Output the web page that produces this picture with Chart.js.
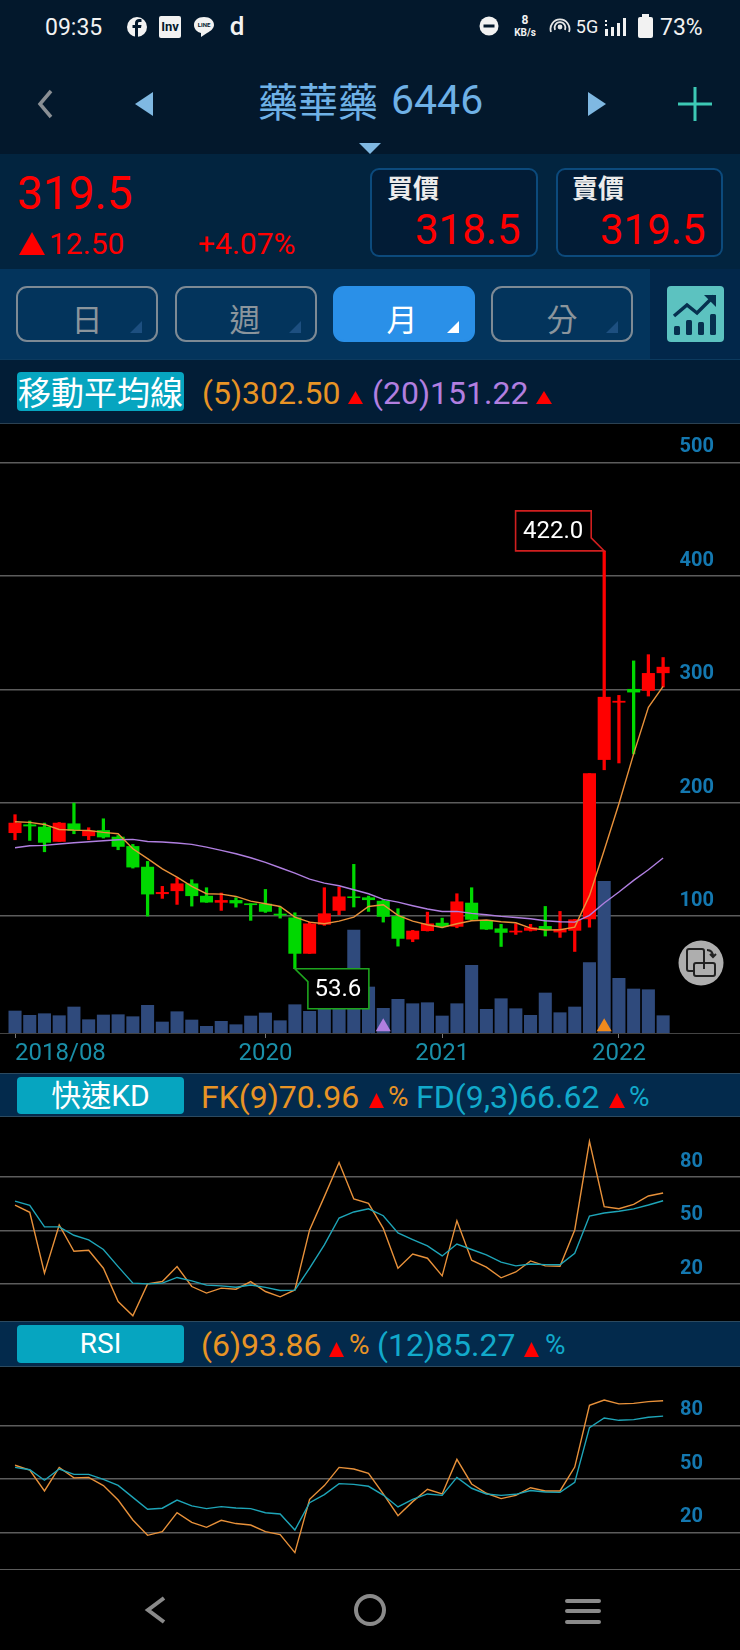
<!DOCTYPE html>
<html>
<head>
<meta charset="utf-8">
<title>藥華藥 6446</title>
<script src="https://cdn.jsdelivr.net/npm/chart.js@4"></script>
<style>
html, body { margin: 0; padding: 0; background: #000; }
#page { position: relative; width: 740px; height: 1650px; overflow: hidden; background: #000;
        font-family: Roboto, "Noto Sans CJK TC", sans-serif; }
.band { position: absolute; left: 0; width: 740px; }
.t { position: absolute; white-space: nowrap; line-height: 1; transform: translateY(-50%); }
.tc { transform: translate(-50%, -50%); }
.tri { position: absolute; clip-path: polygon(50% 0, 100% 100%, 0 100%); background: #ff0000; }
.box { position: absolute; box-sizing: border-box; border: 2px solid #0c4a7c; border-radius: 9px; background: #021c36; }
.tab { position: absolute; top: 286px; height: 56px; width: 142px; box-sizing: border-box; border: 2px solid #7d8a95; border-radius: 11px; }
.corner { position: absolute; top: 321px; width: 12px; height: 12px; clip-path: polygon(100% 0, 100% 100%, 0 100%); background: #1d4f80; }
.lab { position: absolute; left: 17px; width: 167px; border-radius: 4px; background: #06a5c0; color: #fff; text-align: center; }
canvas { position: absolute; left: 0; display: block; }
svg { position: absolute; }
</style>
</head>
<body>
<div id="page">
  <!-- header bands -->
  <div class="band" style="top:0;height:154px;background:#03182c"></div>
  <div class="band" style="top:154px;height:115px;background:#02243f"></div>
  <div class="band" style="top:269px;height:90px;background:#03345c"></div>
  <div class="band" style="top:359px;height:64px;background:#021d36;border-top:1px solid #0c3a5e"></div>
  <div class="band" style="top:423px;height:1px;background:#2b4152"></div>
  <div style="position:absolute;left:650px;top:269px;width:90px;height:90px;background:#02274a"></div>

  <!-- status bar -->
  <div class="t" style="left:45px;top:27px;font-size:23px;color:#f2f2f2">09:35</div>
  <svg style="left:127px;top:17px" width="20" height="20"><circle cx="10" cy="10" r="10" fill="#f2f2f2"/><path d="M11 20V11h3l.5-3H11V6.500c0-1 .4-1.500 1.600-1.500H14.500V2.300C13.800 2.200 13 2.100 12.200 2.100 9.800 2.100 8 3.600 8 6.100V8H5.500v3H8v9z" fill="#03182c"/></svg>
  <div class="t tc" style="left:170px;top:27px;width:22px;height:22px;line-height:22px;text-align:center;background:#f2f2f2;color:#03182c;font-size:13px;font-weight:700;border-radius:2px">Inv</div>
  <svg style="left:193px;top:16px" width="22" height="23"><path d="M11 1C5 1 1 4.500 1 9c0 4 3 7 7 8v4l6-4c4-2 7-5 7-8 0-4.500-4-8-10-8z" fill="#f2f2f2"/></svg>
  <div class="t tc" style="left:204px;top:25px;font-size:6px;font-weight:700;color:#03182c">LINE</div>
  <div class="t tc" style="left:237px;top:26px;font-size:26px;font-weight:500;color:#f2f2f2">d</div>
  <svg style="left:479px;top:16px" width="20" height="20"><circle cx="10" cy="10" r="9.500" fill="#f2f2f2"/><rect x="4.500" y="8.500" width="11" height="3" fill="#03182c"/></svg>
  <div class="t tc" style="left:525px;top:20px;font-size:12px;font-weight:700;color:#f2f2f2">8</div>
  <div class="t tc" style="left:525px;top:33px;font-size:10px;font-weight:700;color:#f2f2f2">KB/s</div>
  <svg style="left:549px;top:16px" width="22" height="20" fill="none" stroke="#e6e6e6" stroke-width="1.800"><path d="M2 16A9.500 9.500 0 1 1 20 16"/><path d="M6 14A5.500 5.500 0 1 1 16 14"/><circle cx="11" cy="11" r="1.500" fill="#e6e6e6"/></svg>
  <div class="t tc" style="left:587px;top:27px;font-size:18px;color:#f2f2f2">5G</div>
  <svg style="left:604px;top:17px" width="22" height="20" fill="#f2f2f2"><rect x="1" y="3" width="2" height="2"/><rect x="1" y="7" width="2" height="2"/><rect x="1" y="12" width="3" height="7"/><rect x="7" y="10" width="3" height="9"/><rect x="13" y="6" width="3" height="13"/><rect x="19" y="1" width="3" height="18"/></svg>
  <svg style="left:638px;top:14px" width="15" height="24" fill="#f2f2f2"><rect x="4" y="0" width="7" height="3"/><rect x="0" y="3" width="15" height="21" rx="2"/></svg>
  <div class="t" style="left:660px;top:27px;font-size:23px;color:#f2f2f2">73%</div>

  <!-- nav row -->
  <svg style="left:35px;top:88px" width="20" height="32" fill="none" stroke="#8a8f94" stroke-width="3.500"><path d="M16 3L5 16L16 29"/></svg>
  <div class="tri" style="left:135px;top:92px;width:18px;height:24px;background:#7fb8e2;clip-path:polygon(100% 0,100% 100%,0 50%)"></div>
  <div class="t" style="left:258px;top:100px;font-size:40px;color:#6fb1e6;font-family:'Noto Sans CJK TC'">藥華藥</div>
  <div class="t" style="left:391px;top:100px;font-size:41px;color:#6fb1e6">6446</div>
  <div class="tri" style="left:588px;top:92px;width:18px;height:24px;background:#7fb8e2;clip-path:polygon(0 0,100% 50%,0 100%)"></div>
  <svg style="left:678px;top:87px" width="34" height="34" stroke="#3dc9b5" stroke-width="3"><path d="M0 17H34M17 0V34"/></svg>
  <div class="tri" style="left:359px;top:143px;width:22px;height:11px;background:#7fb8e2;clip-path:polygon(0 0,100% 0,50% 100%)"></div>

  <!-- quote -->
  <div class="t" style="left:17px;top:193px;font-size:46px;color:#ff0000">319.5</div>
  <div class="tri" style="left:19px;top:232px;width:26px;height:23px"></div>
  <div class="t" style="left:49px;top:244px;font-size:30px;color:#ff0000">12.50</div>
  <div class="t" style="left:198px;top:244px;font-size:30px;color:#ff0000">+4.07%</div>
  <div class="box" style="left:370px;top:168px;width:168px;height:89px"></div>
  <div class="box" style="left:556px;top:168px;width:167px;height:89px"></div>
  <div class="t" style="left:387px;top:187px;font-size:26px;font-weight:700;color:#ececec;font-family:'Noto Sans CJK TC'">買價</div>
  <div class="t" style="left:572px;top:187px;font-size:26px;font-weight:700;color:#ececec;font-family:'Noto Sans CJK TC'">賣價</div>
  <div class="t" style="left:415px;top:230px;font-size:42px;color:#ff0000">318.5</div>
  <div class="t" style="left:600px;top:230px;font-size:42px;color:#ff0000">319.5</div>

  <!-- period tabs -->
  <div class="tab" style="left:16px"></div>
  <div class="tab" style="left:175px"></div>
  <div class="tab" style="left:333px;background:#2a90e8;border-color:#2a90e8"></div>
  <div class="tab" style="left:491px"></div>
  <div class="t tc" style="left:87px;top:317px;font-size:31px;color:#8b959c;font-family:'Noto Sans CJK TC'">日</div>
  <div class="t tc" style="left:245px;top:317px;font-size:31px;color:#8b959c;font-family:'Noto Sans CJK TC'">週</div>
  <div class="t tc" style="left:402px;top:317px;font-size:31px;color:#fff;font-family:'Noto Sans CJK TC'">月</div>
  <div class="t tc" style="left:562px;top:317px;font-size:31px;color:#8b959c;font-family:'Noto Sans CJK TC'">分</div>
  <div class="corner" style="left:130px"></div>
  <div class="corner" style="left:289px"></div>
  <div class="corner" style="left:447px;background:#fff"></div>
  <div class="corner" style="left:606px"></div>
  <div style="position:absolute;left:667px;top:286px;width:57px;height:56px;border-radius:4px;background:#5cc2c0"></div>
  <svg style="left:672px;top:292px" width="47" height="44"><g fill="#06304f"><rect x="2" y="34" width="6" height="9" rx="1.500"/><rect x="14" y="28" width="6" height="15" rx="1.500"/><rect x="26" y="30" width="6" height="13" rx="1.500"/><rect x="38" y="22" width="6" height="21" rx="1.500"/></g><path d="M2 24L15 13L25 21L42 4" fill="none" stroke="#06304f" stroke-width="3.500"/><path d="M32 3H44V15z" fill="#06304f"/></svg>

  <!-- moving average legend -->
  <div class="lab" style="top:372px;height:39px;line-height:39px;font-size:33px;font-family:'Noto Sans CJK TC';letter-spacing:0">移動平均線</div>
  <div class="t" style="left:202px;top:393px;font-size:32px;color:#e89425">(5)302.50</div>
  <div class="tri" style="left:348px;top:391px;width:15px;height:13px"></div>
  <div class="t" style="left:372px;top:393px;font-size:32px;color:#b27fe0">(20)151.22</div>
  <div class="tri" style="left:536px;top:391px;width:16px;height:13px"></div>

  <!-- KD legend -->
  <div class="band" style="top:1073px;height:44px;background:#032a4c;box-sizing:border-box;border-top:1px solid #2c4a60;border-bottom:1px solid #2c4a60"></div>
  <div class="lab" style="top:1077px;height:37px;line-height:37px;font-size:30px;font-family:Roboto,'Noto Sans CJK TC'">快速KD</div>
  <div class="t" style="left:201px;top:1097px;font-size:32px;color:#e89425">FK(9)70.96</div>
  <div class="tri" style="left:369px;top:1093px;width:15px;height:15px"></div>
  <div class="t" style="left:388px;top:1097px;font-size:28px;color:#e89425">%</div>
  <div class="t" style="left:416px;top:1097px;font-size:32px;color:#12aacb">FD(9,3)66.62</div>
  <div class="tri" style="left:609px;top:1093px;width:16px;height:15px"></div>
  <div class="t" style="left:629px;top:1097px;font-size:28px;color:#12aacb">%</div>

  <!-- RSI legend -->
  <div class="band" style="top:1321px;height:46px;background:#032a4c;box-sizing:border-box;border-top:1px solid #2c4a60;border-bottom:1px solid #2c4a60"></div>
  <div class="lab" style="top:1325px;height:38px;line-height:38px;font-size:28px">RSI</div>
  <div class="t" style="left:201px;top:1345px;font-size:32px;color:#e89425">(6)93.86</div>
  <div class="tri" style="left:329px;top:1342px;width:15px;height:15px"></div>
  <div class="t" style="left:349px;top:1345px;font-size:28px;color:#e89425">%</div>
  <div class="t" style="left:377px;top:1345px;font-size:32px;color:#12aacb">(12)85.27</div>
  <div class="tri" style="left:524px;top:1342px;width:15px;height:15px"></div>
  <div class="t" style="left:545px;top:1345px;font-size:28px;color:#12aacb">%</div>

  <canvas id="mainChart" width="740" height="649" style="top:424px"></canvas>
  <canvas id="kdChart" width="740" height="203" style="top:1117px"></canvas>
  <canvas id="rsiChart" width="740" height="203" style="top:1367px"></canvas>

  <!-- floating switch button -->
  <svg style="left:678px;top:940px" width="46" height="46"><circle cx="23" cy="23" r="22.500" fill="#aeaeae"/><g fill="none" stroke="#222" stroke-width="2"><path d="M26 29V11a2 2 0 0 0-2-2H11a2 2 0 0 0-2 2v18a2 2 0 0 0 2 2h5"/><rect x="16" y="23" width="21" height="13" rx="2"/><path d="M29 10c4 0 6 2 6 7M32 14l3 3 3-3"/></g></svg>

  <!-- android nav bar -->
  <svg style="left:140px;top:1590px" width="470" height="40" fill="none" stroke="#8a8a8a" stroke-width="4"><path d="M24 8L8 20L24 32"/><circle cx="230" cy="20" r="14"/><path d="M427 11H459M427 21H459M427 32H459" stroke-linecap="round"/></svg>
</div>

<script>
// Tick labels
var xTickIdx = [0, 17, 29, 41];
var xTickLabels = ['2018/08', '2020', '2021', '2022'];
var priceTicks = [500, 400, 300, 200, 100];
var oscTicks = [80, 50, 20];

// Monthly candles, 2018/08 to 2022/04
var open = [173.5, 180.5, 178.5, 165.8, 181.4, 170.8, 175.5, 169.7, 161.4, 143.2, 119.7, 122.3, 128.5, 117.6, 112.1,
  113.8, 110.9, 110.6, 101.8, 98.5, 67.1, 92.7, 105, 117, 116.2, 113.2, 99.7, 79.7, 87.1, 93.8,
  90.9, 111.5, 95.6, 88.8, 85.9, 87.4, 90.9, 85.9, 87.4, 97.4, 238, 288.5, 300, 299, 314.5];
var close = [182, 179.4, 165, 182, 175.5, 175, 169.7, 161.4, 143.2, 119.4, 120.9, 128.5, 117.9, 112.3, 113.8,
  111.5, 110, 104.1, 100.9, 67.1, 93.2, 102.1, 117, 116.2, 114.4, 99.7, 80.3, 86.8, 93.2, 90.9,
  112.6, 97.1, 88.5, 85.6, 86.8, 89.7, 88.2, 88.2, 96.8, 225.6, 293, 289.5, 297.5, 314, 319.5];
var high = [189.4, 183.8, 182, 182.5, 199.6, 177.9, 185.8, 171.1, 163.2, 148.2, 126.2, 133.8, 132, 125, 120.3,
  116.2, 110.9, 123.5, 107.9, 102.9, 94.7, 125, 125.6, 145.6, 117.6, 114.4, 106.5, 87.4, 103.5, 98.2,
  119.7, 125, 96.2, 92.7, 93.2, 92.7, 108.5, 104.1, 97, 225.6, 422, 294.6, 325, 330.5, 328];
var low = [167.3, 166.7, 156.7, 165.8, 172.6, 167.3, 168.8, 158.5, 142.3, 100, 115.6, 110.3, 108.8, 112.1, 105,
  107.9, 96.2, 103.2, 98.2, 53.6, 67.1, 91.8, 101.2, 108, 104.1, 94.7, 73.5, 77.4, 86.8, 89.7,
  89.7, 96.2, 88.2, 73.2, 83.8, 86.8, 82.4, 81.2, 68.8, 90.3, 229, 235, 243, 294, 302];

// Moving averages
var ma5 = [183.2, 182.6, 180.8, 176.4, 175.8, 175.5, 173.8, 172.6, 159.4, 150.6, 141.7, 134.4, 126.2, 119.7, 119.4,
  117.3, 113.2, 110.9, 108.5, 99.1, 94.7, 93.2, 95.6, 99.1, 108.5, 110, 100.6, 95.6, 92.4, 90,
  93.2, 95.9, 96.5, 95, 94.1, 89.4, 87.7, 87.9, 90.3, 118, 158, 199, 243, 284, 302.5];
var ma20 = [160.3, 162, 162.3, 163.5, 164.7, 165.5, 166.4, 167.3, 167.6, 165.8, 165.3, 164.4, 163.2, 160.8, 157.9,
  155, 151.4, 147.3, 142.6, 137.9, 132.6, 129.1, 126.7, 123.2, 119.7, 114.7, 112.3, 109.1, 106.2, 104.1,
  104.1, 102.4, 101.2, 99.7, 98.8, 97.6, 95.9, 95, 94.7, 100.6, 111.5, 121.2, 131.5, 140.9, 151.22];

// Volume (no axis in the picture)
var volume = [22, 17.7, 19.3, 17.3, 26, 13.3, 18, 18.3, 16.3, 27.7, 11, 21.3, 13, 6.7, 11.7,
  8.3, 17, 20, 12.3, 28.3, 21.7, 28, 27, 103, 46, 24.7, 33.7, 29.3, 30.3, 17,
  29.3, 67.7, 23.7, 34.3, 24.3, 17.7, 40, 20.3, 26, 70.3, 151.7, 54.7, 44, 43.3, 17.3];

// Fast KD
var fk = [64.2, 60.1, 25.9, 53, 38.2, 38.8, 28.7, 10, 2, 19.9, 21.2, 29.6, 18.4, 14.7, 17.5,
  16.9, 21.2, 15.6, 12.6, 16.5, 50.2, 68.9, 88.1, 67.6, 65.1, 51.1, 28.7, 36.7, 34.3, 24.4,
  55.4, 33.2, 29.3, 23.3, 26.6, 32.8, 30, 29.8, 50.2, 100, 63.3, 62.1, 64.6, 69.3, 70.96];
var fd = [66.4, 64, 51.9, 51.9, 47.2, 44.6, 39.2, 29.6, 20.3, 19.9, 20.3, 23.5, 21.6, 19.2, 18.8,
  18, 19.3, 17.9, 16.2, 16.4, 28.7, 41.8, 56.9, 60.3, 62.1, 58.2, 48.5, 44.8, 41.2, 35.6,
  42.3, 39.2, 36.2, 32.1, 30, 31.1, 30.7, 30.6, 37.1, 58, 59.7, 60.7, 62, 64.2, 66.62];

// RSI
var rsi6 = [57.7, 55, 43.3, 56.5, 50.6, 50.9, 46.3, 38.2, 27, 18.4, 20.5, 31.1, 25.7, 22.9, 26.8,
  25, 24.2, 20.5, 18.8, 8.7, 38.6, 46.3, 56.5, 55.6, 53.2, 41.6, 29.4, 37.3, 44.2, 41.6,
  61, 47.2, 42, 39, 40.8, 45.1, 43.3, 43.3, 56.7, 91.3, 94.3, 92.1, 92.4, 93.4, 93.86];
var rsi12 = [56.5, 55.2, 49.3, 55.6, 52.6, 52.6, 49.8, 46.4, 39.7, 33, 33.6, 38.2, 34.9, 33.4, 34.5,
  33.7, 33.4, 31.1, 30.4, 21.4, 36.7, 41.2, 47.4, 47, 45.9, 41, 34.3, 38.6, 41.6, 40.8,
  50.9, 44.8, 41.6, 40.8, 41.4, 43.5, 42.7, 42.5, 48.1, 78.8, 84.2, 82.9, 83.3, 84.6, 85.27];

var RED = '#ff0000', GREEN = '#00d800';
var ORANGE = '#e8913a', PURPLE = '#b07fe0', TEAL = '#1ea5b8';
var GRID = '#5c5c5c', TICK = '#1478b0';
var xMin = -1.02, xMax = 49.22;   // leaves room for the price labels on the right

Chart.defaults.font.family = 'Roboto, sans-serif';
Chart.defaults.animation = false;

function points(arr) {
  return arr.map(function (v, i) { return { x: i, y: v }; });
}
function lineSet(arr, color, yAxisID, order) {
  return { type: 'line', data: points(arr), borderColor: color, borderWidth: 1.4, pointRadius: 0,
           tension: 0, yAxisID: yAxisID, order: order };
}
function setTicks(values) {
  return function (scale) {
    scale.ticks = values.map(function (v) { return { value: v }; });
  };
}
// the axis sits on top of the plot, so it must not take any room from it
function noRoom(scale) {
  if (scale.isHorizontal()) {
    scale.height = 40;
    scale.paddingLeft = 0;
    scale.paddingRight = 0;
  } else {
    scale.width = 0;
    scale.paddingTop = 0;
    scale.paddingBottom = 0;
  }
}
function valueAxis(min, max, values, right, labels) {
  return {
    position: 'right', min: min, max: max,
    afterBuildTicks: setTicks(values),
    afterFit: noRoom,
    border: { display: false },
    grid: { color: GRID, lineWidth: 1.5, drawTicks: false },
    ticks: { mirror: true, padding: -right, labelOffset: -15, color: TICK, autoSkip: false,
             font: { size: 20, weight: 'bold' },
             callback: function (v) { return labels.indexOf(v) >= 0 ? String(v) : ''; } }
  };
}
var baseOptions = { responsive: false, events: [], layout: { padding: 0, autoPadding: false },
                    plugins: { legend: { display: false }, tooltip: { enabled: false } } };

// Boxed labels on the highest and lowest wicks
var calloutPlugin = {
  id: 'callouts',
  afterDatasetsDraw: function (chart) {
    var ctx = chart.ctx, x = chart.scales.x, y = chart.scales.y;
    var maxVal = Math.max.apply(null, high), minVal = Math.min.apply(null, low);
    var hx = x.getPixelForValue(high.indexOf(maxVal)), hy = y.getPixelForValue(maxVal);
    var lx = x.getPixelForValue(low.indexOf(minVal)), ly = y.getPixelForValue(minVal);
    ctx.save();
    ctx.lineWidth = 1.6;
    ctx.fillStyle = '#000';
    ctx.strokeStyle = '#d01f1f';
    ctx.beginPath();
    ctx.moveTo(hx, hy);
    ctx.lineTo(hx - 88.6, hy);
    ctx.lineTo(hx - 88.6, hy - 40);
    ctx.lineTo(hx - 13, hy - 40);
    ctx.lineTo(hx - 13, hy - 13);
    ctx.closePath();
    ctx.fill();
    ctx.stroke();
    ctx.strokeStyle = '#1ea51e';
    ctx.beginPath();
    ctx.moveTo(lx, ly);
    ctx.lineTo(lx + 74, ly);
    ctx.lineTo(lx + 74, ly + 40);
    ctx.lineTo(lx + 13, ly + 40);
    ctx.lineTo(lx + 13, ly + 13);
    ctx.closePath();
    ctx.fill();
    ctx.stroke();
    ctx.fillStyle = '#fff';
    ctx.font = '24px Roboto';
    ctx.textAlign = 'center';
    ctx.textBaseline = 'middle';
    ctx.fillText(maxVal.toFixed(1), hx - 51, hy - 19);
    ctx.fillText(minVal.toFixed(1), lx + 43, ly + 21);
    ctx.restore();
  }
};

var candleColors = close.map(function (c, i) { return c >= open[i] ? RED : GREEN; });

new Chart(document.getElementById('mainChart'), {
  type: 'bar',
  data: {
    datasets: [
      { type: 'scatter', data: [{ x: 25, y: 6 }, { x: 40, y: 6 }], pointStyle: 'triangle', pointRadius: 8.7,
        pointBackgroundColor: ['#b07fe0', '#f08a1d'], pointBorderWidth: 0, yAxisID: 'yVol', order: 0 },
      lineSet(ma5, ORANGE, 'y', 1),
      lineSet(ma20, PURPLE, 'y', 1),
      { data: open.map(function (o, i) { return { x: i, y: [o, close[i]] }; }), backgroundColor: candleColors,
        barThickness: 12.4, grouped: false, yAxisID: 'y', order: 2 },
      { data: low.map(function (l, i) { return { x: i, y: [l, high[i]] }; }), backgroundColor: candleColors,
        barThickness: 2.6, grouped: false, yAxisID: 'y', order: 3 },
      { data: points(volume), backgroundColor: '#2f4a7c', barThickness: 12.4, grouped: false, yAxisID: 'yVol', order: 4 }
    ]
  },
  options: Object.assign({}, baseOptions, {
    scales: {
      x: {
        type: 'linear', min: xMin, max: xMax, offset: false,
        afterBuildTicks: setTicks(xTickIdx.concat([xMax])),
        afterFit: noRoom,
        border: { color: '#444' },
        grid: { offset: false, drawOnChartArea: false, tickLength: 5, tickColor: '#777' },
        ticks: { autoSkip: false, maxRotation: 0, align: 'inner', padding: 2, color: '#1a8fa8', font: { size: 24 },
                 callback: function (v) { var k = xTickIdx.indexOf(v); return k >= 0 ? xTickLabels[k] : ''; } }
      },
      y: valueAxis(-3.1, 533.9, priceTicks, 26, priceTicks),
      yVol: { display: false, min: 0, max: 609 }
    }
  }),
  plugins: [calloutPlugin]
});

function oscChart(id, a, b, min, max, values) {
  new Chart(document.getElementById(id), {
    type: 'line',
    data: { datasets: [lineSet(a, ORANGE, 'y', 2), lineSet(b, TEAL, 'y', 1)] },
    options: Object.assign({}, baseOptions, {
      scales: {
        x: { type: 'linear', display: false, min: xMin, max: xMax },
        y: valueAxis(min, max, values, 37, oscTicks)
      }
    })
  });
}
oscChart('kdChart', fk, fd, -0.4, 113.65, oscTicks);
oscChart('rsiChart', rsi6, rsi12, -1.04, 112.8, oscTicks.concat([-0.7]));
</script>
</body>
</html>
